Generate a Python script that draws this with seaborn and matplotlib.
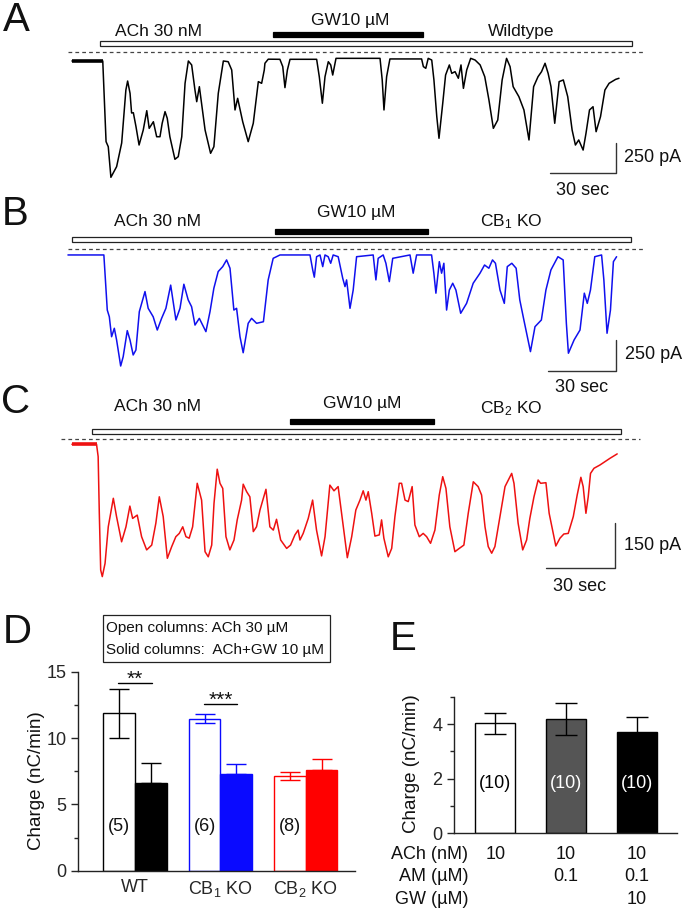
import numpy as np
import pandas as pd
import matplotlib
matplotlib.use("Agg")
import matplotlib.pyplot as plt
import seaborn as sns
from matplotlib.patches import Rectangle

# ---------------------------------------------------------------- data
# whole-cell currents (time in s, current in pA)
a_t = [0, 14.0, 15.5, 16.5, 17.7, 20.3, 22.6, 24.5, 25.3, 26.4,
       27.1, 27.9, 29.1, 30.5, 32.4, 34.0, 35.1, 37.0, 38.5, 40.0,
       41.0, 42.3, 43.3, 44.5, 46.8, 48.3, 49.9, 51.4, 52.9, 54.4,
       55.9, 56.7, 57.9, 58.9, 60.5, 63.0, 64.5, 66.5, 68.8, 71.0,
       72.6, 74.1, 75.3, 77.6, 80.1, 82.4, 84.7, 86.2, 87.4, 87.7,
       89.2, 94.5, 95.8, 96.8, 97.9, 99.1, 111.2, 112.4, 113.8, 115.0,
       116.5, 117.6, 118.5, 120.0, 140.0, 141.0, 141.8, 143.0, 144.5, 158.9,
       159.7, 160.8, 161.9, 163.5, 164.5, 165.8, 166.8, 168.5, 169.8, 171.5,
       172.6, 174.1, 175.6, 176.8, 177.9, 179.4, 181.2, 183.2, 185.5, 187.6,
       189.5, 191.5, 193.5, 195.5, 197.5, 199.1, 200.5, 203.1, 205.4, 207.7,
       209.8, 211.8, 213.4, 215.0, 216.4, 217.7, 219.4, 221.4, 223.3, 225.3,
       227.3, 228.8, 230.3, 232.3, 233.6, 235.2, 236.8, 238.2, 240.2, 242.2,
       244.1, 247.1, 248.6]
a_i = [0, 0, -672, -714, -969, -880, -683, -242, -167, -269,
       -433, -431, -547, -700, -575, -414, -561, -506, -631, -631,
       -519, -422, -477, -631, -819, -797, -631, -186, 0, -33,
       -242, -339, -214, -353, -575, -769, -714, -269, 0, -6,
       -75, -408, -311, -506, -672, -519, -172, -186, -75, -19,
       15, 14, -47, -222, -75, 14, 14, -131, -352, -131,
       -6, -33, -117, 22, 22, -158, -408, -131, 17, 17,
       -47, -61, 22, 8, -158, -464, -644, -353, -117, -33,
       -103, -89, -144, -33, -228, -75, 22, 8, -33, -131,
       -325, -561, -492, -158, 22, -47, -214, -297, -408, -658,
       -214, -131, -89, -19, -103, -214, -519, -172, -158, -297,
       -575, -700, -658, -742, -603, -408, -381, -589, -464, -242,
       -186, -153, -144]

b_t = [0, 15.8, 16.3, 17.3, 18.2, 19.2, 20.4, 21.4, 23.2, 24.3,
       26.1, 27.3, 28.7, 29.9, 31.4, 33.9, 35.3, 37.5, 39.3, 41.2,
       43.1, 45.2, 47.5, 49.3, 51.0, 52.9, 54.4, 55.9, 57.8, 60.7,
       62.5, 64.2, 66.1, 68.1, 69.8, 71.3, 73.0, 74.2, 75.7, 77.1,
       79.3, 80.8, 83.0, 86.0, 88.1, 90.3, 93.3, 106.5, 107.7, 108.4,
       109.4, 110.9, 112.1, 113.1, 114.5, 115.6, 116.7, 118.9, 120.9, 121.9,
       122.6, 124.1, 125.5, 127.0, 134.3, 135.5, 136.5, 138.7, 139.9, 141.4,
       142.9, 150.5, 151.9, 153.4, 160.0, 161.0, 161.9, 163.4, 164.4, 165.4,
       166.6, 167.8, 169.3, 170.7, 172.8, 175.4, 178.3, 181.3, 183.3, 185.2,
       186.8, 188.1, 190.1, 192.0, 193.3, 195.3, 197.2, 198.8, 200.6, 203.5,
       205.5, 208.3, 210.3, 212.5, 215.6, 217.9, 219.3, 220.2, 222.7, 225.3,
       227.2, 228.5, 229.9, 231.8, 234.8, 235.8, 237.2, 238.7, 240.0, 241.4]
b_i = [0, 0, -147, -444, -498, -659, -591, -685, -895, -820,
       -610, -685, -806, -766, -457, -295, -430, -498, -605, -511,
       -430, -243, -524, -430, -236, -362, -417, -565, -511, -618,
       -457, -268, -134, -94, -40, -107, -444, -430, -659, -788,
       -551, -511, -551, -538, -201, -27, 0, 0, -121, -179,
       -14, 0, -94, 0, -14, -67, 0, -14, -188, -255,
       -201, -430, -283, -14, 0, -201, -27, 0, -67, -215,
       -27, 0, -147, 0, 0, -147, -308, -54, -147, -67,
       -444, -283, -228, -283, -470, -390, -228, -147, -81, -107,
       -40, -67, -283, -390, -94, -67, -107, -362, -524, -779,
       -578, -524, -283, -121, -14, -40, -551, -792, -685, -605,
       -308, -390, -283, -14, 0, -201, -631, -444, -54, -14]

c_t = [0, 10.7, 11.4, 11.9, 12.5, 13.2, 14.4, 15.8, 18.0, 19.4,
       21.6, 23.5, 25.2, 26.4, 28.4, 30.3, 32.5, 34.7, 36.5, 38.0,
       39.7, 41.5, 43.4, 45.2, 46.7, 48.2, 49.6, 51.0, 52.5, 54.5,
       56.4, 57.9, 59.3, 60.8, 61.8, 63.2, 64.4, 65.6, 67.0, 68.7,
       70.5, 71.9, 73.8, 74.5, 76.0, 77.4, 78.9, 80.3, 81.8, 84.4,
       86.1, 87.6, 89.0, 90.8, 93.4, 95.1, 97.0, 98.4, 99.2, 100.6,
       102.8, 104.7, 106.4, 108.6, 110.1, 112.2, 114.0, 115.8, 117.3, 119.8,
       121.7, 123.5, 125.3, 126.7, 127.9, 128.9, 130.4, 131.8, 133.7, 134.7,
       135.7, 137.6, 139.1, 140.5, 142.4, 143.4, 144.9, 146.3, 148.0, 149.2,
       151.1, 152.8, 154.3, 156.0, 157.9, 159.8, 161.3, 162.7, 164.4, 166.6,
       168.5, 170.5, 172.4, 174.6, 176.7, 178.2, 179.7, 181.1, 182.6, 184.0,
       186.2, 188.4, 191.3, 192.3, 194.1, 196.1, 197.8, 199.2, 201.0, 202.8,
       203.9, 206.2, 207.6, 209.1, 210.5, 212.3, 214.0, 215.9, 218.1, 219.8,
       221.4, 222.4, 223.6, 224.6, 225.6, 227.1, 229.7, 234.0, 237.2]
c_i = [0, 0, -41, -229, -419, -441, -397, -275, -180, -241,
       -325, -275, -206, -247, -236, -308, -352, -336, -263, -175,
       -241, -380, -341, -308, -297, -275, -308, -313, -275, -130,
       -186, -358, -375, -336, -197, -83, -130, -147, -308, -352,
       -319, -252, -186, -133, -158, -175, -291, -275, -219, -150,
       -275, -286, -250, -319, -347, -336, -302, -286, -319, -297,
       -247, -186, -286, -372, -308, -136, -155, -141, -230, -378,
       -308, -219, -186, -155, -186, -158, -230, -306, -302, -252,
       -313, -375, -347, -241, -130, -130, -186, -191, -141, -269,
       -308, -297, -308, -330, -286, -169, -108, -147, -275, -358,
       -347, -336, -230, -125, -141, -169, -275, -341, -363, -341,
       -241, -141, -97, -130, -263, -352, -319, -247, -175, -119,
       -130, -128, -230, -286, -339, -313, -299, -297, -241, -169,
       -110, -141, -230, -175, -97, -80, -69, -47, -32]

# panel D: charge (nC/min), mean and SEM
d_groups = ["WT", "CB$_1$ KO", "CB$_2$ KO"]
d_open = [11.85, 11.45, 7.12]
d_open_sem = [1.85, 0.35, 0.3]
d_solid = [6.6, 7.3, 7.6]
d_solid_sem = [1.5, 0.75, 0.82]
d_n = ["(5)", "(6)", "(8)"]

# panel E
e_mean = [4.02, 4.18, 3.72]
e_sem = [0.37, 0.58, 0.52]
e_n = ["(10)", "(10)", "(10)"]
e_rows = ["ACh (nM)", "AM (\u00b5M)", "GW (\u00b5M)"]
e_vals = [["10", "10", "10"], ["", "0.1", "0.1"], ["", "", "10"]]

# ---------------------------------------------------------------- style
sns.set_style("white")
plt.rcParams["font.family"] = ["Liberation Sans", "DejaVu Sans"]
plt.rcParams["mathtext.fontset"] = "custom"
plt.rcParams["mathtext.rm"] = "Liberation Sans"
plt.rcParams["mathtext.it"] = "Liberation Sans:italic"
plt.rcParams["text.color"] = "#111111"

W, H = 685, 914
fig = plt.figure(figsize=(W / 100, H / 100), dpi=100)


def px_rect(x0, y0, x1, y1):
    return [x0 / W, 1 - y1 / H, (x1 - x0) / W, (y1 - y0) / H]


def trace_panel(rect, xlim, ylim, t, cur, color, thick):
    ax = fig.add_axes(rect)
    sns.lineplot(x=t, y=cur, ax=ax, color=color, lw=1.1, sort=False, estimator=None)
    if thick:
        ax.plot(t[:2], cur[:2], color=color, lw=2.6, solid_capstyle="butt")
    ax.set_xlim(*xlim)
    ax.set_ylim(*ylim)
    ax.set_axis_off()
    return ax


def drugs(ax, ach, ach_y, gw, gw_y, h, dash_x, dash_y, labels):
    ax.add_patch(Rectangle((ach[0], ach_y - h / 2), ach[1] - ach[0], h,
                           fc="white", ec="#222222", lw=0.9))
    ax.add_patch(Rectangle((gw[0], gw_y - h / 2), gw[1] - gw[0], h,
                           fc="black", ec="black", lw=0.9))
    ax.plot(dash_x, [dash_y, dash_y], ls=(0, (3, 2.5)), color="#444444", lw=0.9)
    for x, y, s in labels:
        ax.text(x, y, s, ha="center", va="center", fontsize=12.5)


def scalebar(ax, x_end, y0, amp, amp_lbl, lbl_x, lbl_y, sec_x, sec_y):
    ax.plot([x_end - 30, x_end, x_end], [y0, y0, y0 + amp], color="#333333", lw=1.0)
    ax.text(lbl_x, lbl_y, amp_lbl, ha="left", va="center", fontsize=13)
    ax.text(sec_x, sec_y, "30 sec", ha="center", va="center", fontsize=13)


# A
axA = trace_panel(px_rect(0, 0, 685, 200), (-32.7, 278.6), (-1158, 508), a_t, a_i, "black", True)
drugs(axA, (12.7, 254.5), 142, (91.4, 159.5), 217, 42, [-1.8, 260.4], 72,
      [(39.5, 244, "ACh 30 nM"), (126.4, 336, "GW10 \u00b5M"), (204, 244, "Wildtype")])
scalebar(axA, 247.3, -933, 250, "250 pA", 251, -808, 232, -1083)

# B
axB = trace_panel(px_rect(0, 200, 685, 400), (-29.9, 271.5), (-1169, 443), b_t, b_i, "#1010ee", False)
drugs(axB, (1.8, 247.7), 121, (91.1, 158.4), 188, 40, [0, 253.4], 48,
      [(39.6, 268, "ACh 30 nM"), (126.7, 339, "GW10 \u00b5M"), (194.9, 268, "CB$_1$ KO")])
scalebar(axB, 241.1, -935, 250, "250 pA", 245, -806, 226, -1072)

# C
axC = trace_panel(px_rect(0, 380, 685, 600), (-31.3, 266.7), (-519, 214.3), c_t, c_i, "#ee1111", True)
drugs(axC, (8.6, 238.8), 42, (95, 157.4), 75, 17, [-4.8, 247], 16.7,
      [(37.4, 125, "ACh 30 nM"), (126.4, 137, "GW10 \u00b5M"), (191, 120, "CB$_2$ KO")])
scalebar(axC, 236.2, -413, 150, "150 pA", 240, -336, 221, -475)

# panel letters
for s, x, y in [("A", 16, 20), ("B", 15, 214), ("C", 16, 402), ("D", 17, 632), ("E", 403, 639)]:
    fig.text(x / W, 1 - y / H, s, fontsize=29, ha="center", va="center")

# ---------------------------------------------------------------- D
axD = fig.add_axes(px_rect(78.3, 671.7, 355, 870.7))
df_d = pd.DataFrame({
    "group": np.repeat(d_groups, 2),
    "cond": ["open", "solid"] * 3,
    "mean": [v for pair in zip(d_open, d_solid) for v in pair],
})
sns.barplot(data=df_d, x="group", y="mean", hue="cond", width=0.74, gap=0,
            errorbar=None, legend=False, ax=axD)
d_cols = ["black", "#0a0aff", "#ff0000"]
bars = sorted(axD.patches, key=lambda p: p.get_x())
for k, p in enumerate(bars):
    c = d_cols[k // 2]
    p.set_facecolor("white" if k % 2 == 0 else c)
    p.set_edgecolor(c)
    p.set_linewidth(1.0)
off = 0.185
for g in range(3):
    c = d_cols[g]
    axD.errorbar(g - off, d_open[g], yerr=d_open_sem[g], fmt="none", ecolor=c,
                 elinewidth=1.0, capsize=7, capthick=1.0)
    axD.errorbar(g + off, d_solid[g], yerr=[[0], [d_solid_sem[g]]], fmt="none", ecolor=c,
                 elinewidth=1.0, capsize=7, capthick=1.0)
    axD.text(g - off, 3.3, d_n[g], ha="center", va="center", fontsize=13)
axD.plot([-0.195, 0.195], [14.18, 14.18], color="black", lw=1.0, clip_on=False)
axD.text(0, 14.0, "**", ha="center", va="baseline", fontsize=15, clip_on=False)
axD.plot([0.81, 1.19], [12.6, 12.6], color="black", lw=1.0, clip_on=False)
axD.text(1, 12.45, "***", ha="center", va="baseline", fontsize=15, clip_on=False)
axD.set_xlim(-0.663, 2.577)
axD.set_ylim(0, 15)
axD.set_yticks([0, 5, 10, 15])
axD.set_yticks([2.5, 7.5, 12.5], minor=True)
axD.set_xlabel("")
axD.set_ylabel("")
axD.tick_params(axis="y", which="major", length=5, width=1, labelsize=13, left=True)
axD.tick_params(axis="y", which="minor", length=3, width=1, left=True)
axD.tick_params(axis="x", length=0, labelsize=13, pad=6)
sns.despine(ax=axD)
for sp in ["left", "bottom"]:
    axD.spines[sp].set_linewidth(1.0)
    axD.spines[sp].set_color("#222222")
fig.text(36.7 / W, 1 - 781 / H, "Charge (nC/min)", rotation=90, ha="center", va="center", fontsize=13.5)

# legend box of D
fig.add_artist(Rectangle((102.7 / W, 1 - 661.7 / H), (330 - 102.7) / W, (661.7 - 615) / H,
                         transform=fig.transFigure, fc="none", ec="#222222", lw=0.9))
fig.text(106 / W, 1 - 628.3 / H, "Open columns: ACh 30 \u00b5M", va="center", fontsize=11)
fig.text(106 / W, 1 - 650 / H, "Solid columns:  ACh+GW 10 \u00b5M", va="center", fontsize=11)

# ---------------------------------------------------------------- E
axE = fig.add_axes(px_rect(454, 696.7, 676.7, 833.3))
df_e = pd.DataFrame({"cond": ["a", "b", "c"], "mean": e_mean})
sns.barplot(data=df_e, x="cond", y="mean", hue="cond", palette=["white", "#555555", "black"],
            width=0.56, edgecolor="black", linewidth=1.0, errorbar=None, legend=False, ax=axE)
for k in range(3):
    axE.errorbar(k, e_mean[k], yerr=e_sem[k], fmt="none", ecolor="black",
                 elinewidth=1.0, capsize=8, capthick=1.0)
    axE.text(k, 1.83, e_n[k], ha="center", va="center", fontsize=13,
             color="black" if k == 0 else "white")
axE.set_xlim(-0.583, 2.562)
axE.set_ylim(0, 5)
axE.set_yticks([0, 2, 4])
axE.set_yticks([1, 3, 5], minor=True)
axE.set_xticks([])
axE.set_xlabel("")
axE.set_ylabel("")
axE.tick_params(axis="y", which="major", length=5, width=1, labelsize=13, left=True)
axE.tick_params(axis="y", which="minor", length=3, width=1, left=True)
sns.despine(ax=axE)
for sp in ["left", "bottom"]:
    axE.spines[sp].set_linewidth(1.0)
    axE.spines[sp].set_color("#222222")
fig.text(411.7 / W, 1 - 763.3 / H, "Charge (nC/min)", rotation=90, ha="center", va="center", fontsize=13.5)

row_y = [-0.79, -1.59, -2.44]
for r in range(3):
    axE.text(-0.38, row_y[r], e_rows[r], ha="right", va="center", fontsize=13, clip_on=False)
    for k in range(3):
        if e_vals[r][k]:
            axE.text(k, row_y[r], e_vals[r][k], ha="center", va="center", fontsize=13, clip_on=False)

fig.savefig("out.png", dpi=100)
